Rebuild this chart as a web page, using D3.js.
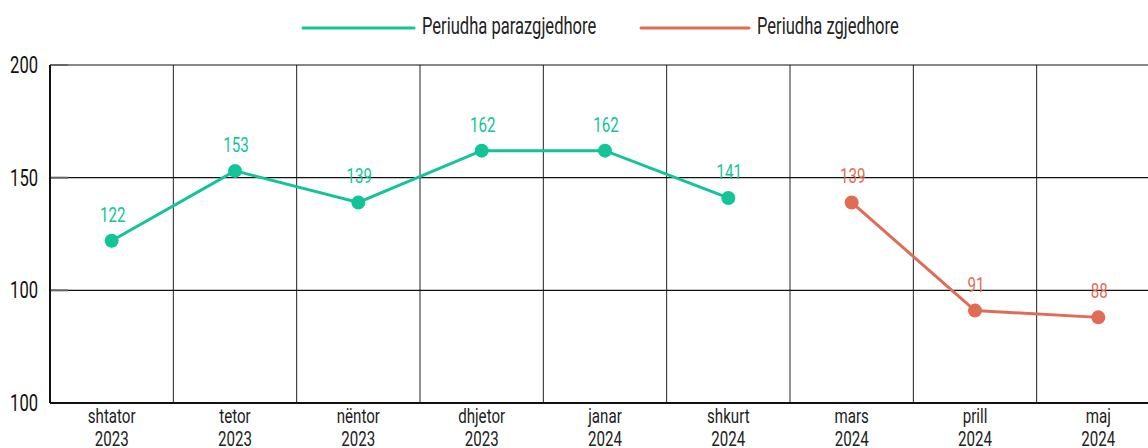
<!DOCTYPE html>
<html><head><meta charset="utf-8">
<script src="https://cdn.jsdelivr.net/npm/d3@7"></script>
<style>
html,body{margin:0;padding:0;background:#fff;overflow:hidden}
text{font-family:Roboto,"Noto Sans",sans-serif}
</style></head><body>
<svg id="c" width="1148" height="448"></svg>
<script>
const months = ["shtator","tetor","nëntor","dhjetor","janar","shkurt","mars","prill","maj"];
const years = ["2023","2023","2023","2023","2024","2024","2024","2024","2024"];
const preElection = [122,153,139,162,162,141,null,null,null];
const election = [null,null,null,null,null,null,139,91,88];
const yTickValues = [50,100,150,200];
const yTickLabels = ["100","100","150","200"];
const seriesNames = ["Periudha parazgjedhore","Periudha zgjedhore"];
const colors = ["#12c497","#e06c55"];

(function(){
const svg = d3.select("#c");
const mLeft = 50, mTop = 65, mBottom = 403, mRight = 1160;
const SX = 0.72; // horizontal condensing of the text
const x = d3.scaleBand().domain(months).range([mLeft,mRight]);
const y = d3.scaleLinear().domain([50,200]).range([mBottom,mTop]);
const cx = m => x(m) + x.bandwidth()/2;

function ctext(g, px, py, str, size, fill, anchor){
  return g.append("text")
    .attr("transform",`translate(${px},${py}) scale(${SX},1)`)
    .attr("text-anchor",anchor||"start").attr("font-size",size).attr("fill",fill).text(str);
}

// vertical grid
svg.append("g").selectAll("line").data(months.slice(1)).join("line")
  .attr("x1",d=>x(d)).attr("x2",d=>x(d)).attr("y1",mTop).attr("y2",mBottom)
  .attr("stroke","#222").attr("stroke-width",1);
// horizontal grid
svg.append("g").selectAll("line").data(yTickValues.slice(1)).join("line")
  .attr("x1",mLeft).attr("x2",1148).attr("y1",d=>y(d)).attr("y2",d=>y(d))
  .attr("stroke","#111").attr("stroke-width",1.2);
// short gray ticks
svg.append("g").selectAll("line").data(yTickValues).join("line")
  .attr("x1",mLeft).attr("x2",mLeft+18).attr("y1",d=>y(d)).attr("y2",d=>y(d))
  .attr("stroke","#666").attr("stroke-width",2);
// axes lines
svg.append("line").attr("x1",mLeft).attr("x2",mLeft).attr("y1",mTop).attr("y2",mBottom).attr("stroke","#111").attr("stroke-width",2);
svg.append("line").attr("x1",mLeft).attr("x2",1148).attr("y1",mBottom).attr("y2",mBottom).attr("stroke","#111").attr("stroke-width",2);

// y labels
const gy = svg.append("g");
yTickValues.forEach((v,i)=> ctext(gy, 38, y(v)+8, yTickLabels[i], 23, "#111", "end"));
// x labels
const gx = svg.append("g");
months.forEach((m,i)=>{
  ctext(gx, cx(m), 423, m, 21, "#222", "middle");
  ctext(gx, cx(m), 446, years[i], 21, "#222", "middle");
});

// series
[preElection, election].forEach((vals,si)=>{
  const pts = months.map((m,i)=>({m,v:vals[i]})).filter(p=>p.v!=null);
  const line = d3.line().x(p=>cx(p.m)).y(p=>y(p.v));
  svg.append("path").attr("d",line(pts)).attr("fill","none").attr("stroke",colors[si]).attr("stroke-width",3);
  svg.append("g").selectAll("circle").data(pts).join("circle")
    .attr("cx",p=>cx(p.m)).attr("cy",p=>y(p.v)).attr("r",7).attr("fill",colors[si]);
  const gl = svg.append("g");
  pts.forEach(p=> ctext(gl, cx(p.m)+1, y(p.v)-19, String(p.v), 21, colors[si], "middle"));
});

// legend
const leg = [{x1:303,x2:414,tx:422},{x1:641,x2:749,tx:757}];
const gleg = svg.append("g");
leg.forEach((l,i)=>{
  gleg.append("line").attr("x1",l.x1).attr("x2",l.x2).attr("y1",28).attr("y2",28).attr("stroke",colors[i]).attr("stroke-width",3).attr("stroke-linecap","round");
  ctext(gleg, l.tx, 34, seriesNames[i], 23, "#222", "start");
});
})();
</script>
</body></html>
